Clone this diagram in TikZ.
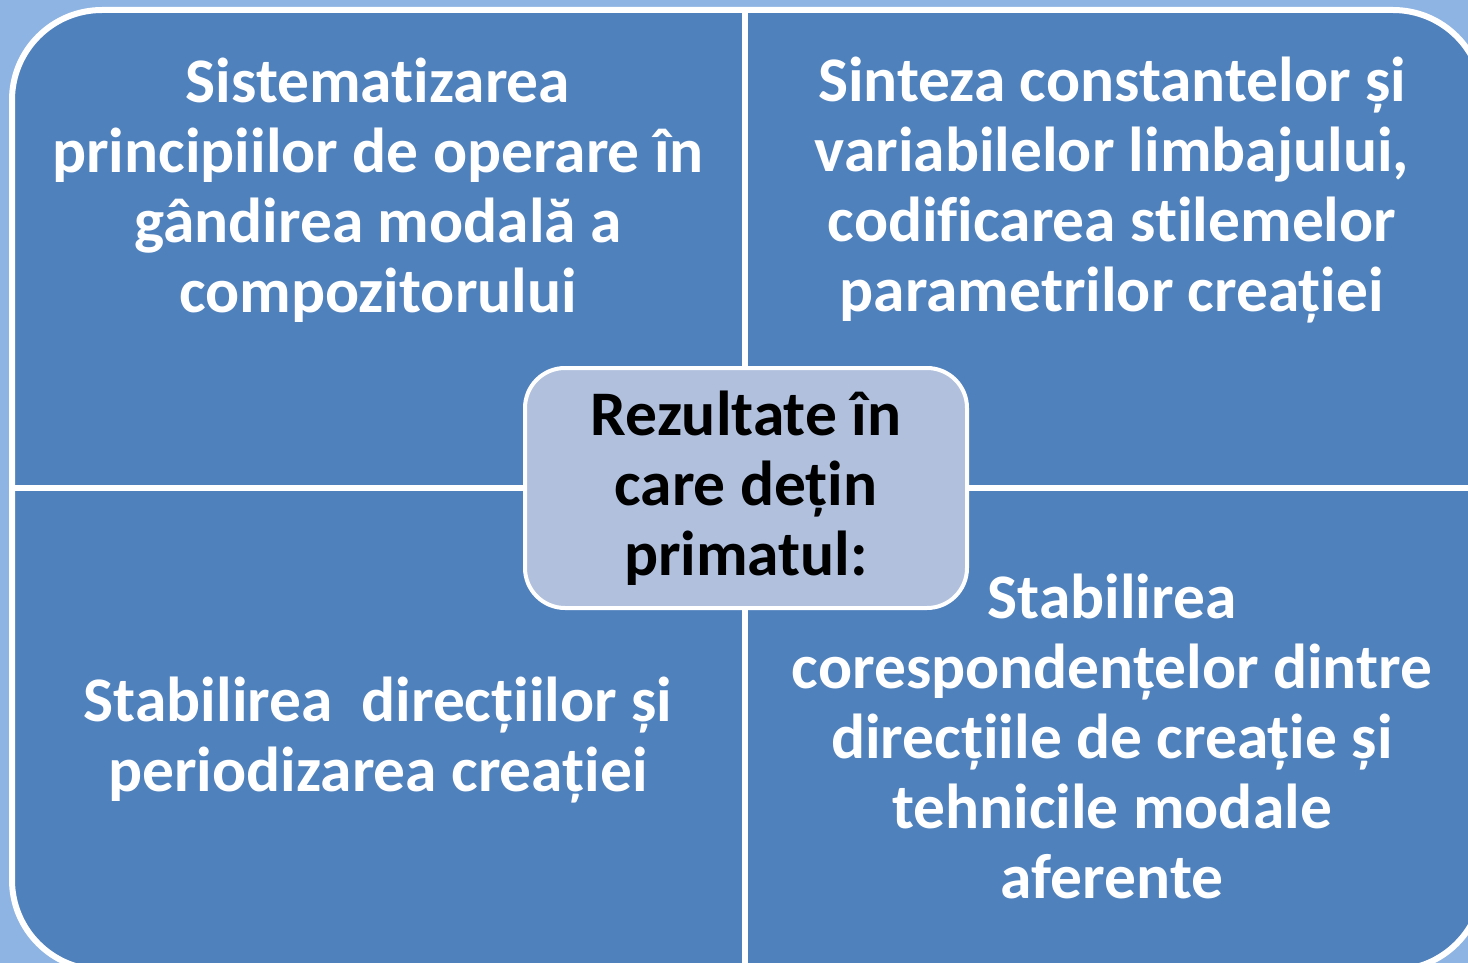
\documentclass[tikz,border=0pt]{standalone}
\usepackage{fontspec}
\setmainfont{Carlito}[Ligatures=NoCommon]
\usepackage{tikz}
\usetikzlibrary{positioning}
\definecolor{pageColor}{RGB}{142,180,227}
\definecolor{quadColor}{RGB}{79,129,189}
\definecolor{hubColor}{RGB}{176,192,221}
\tikzstyle{sheet} = [x = 1pt, y = -1pt]
\tikzstyle{quadStyle} = [fill=quadColor, draw=white, line width=6pt, rounded corners=90pt]
\tikzstyle{dividerLine} = [draw=white, line width=6pt]
\tikzstyle{quadText} = [text=white, align=center, font=\fontsize{63.5}{70}\selectfont\bfseries]
\tikzstyle{hubStyle} = [fill=hubColor, draw=white, line width=4pt, rounded corners=40pt, minimum width=442pt, minimum height=240pt, align=center, font=\fontsize{63.5}{70}\selectfont\bfseries]

\begin{document}
\begin{tikzpicture}[sheet]
    \useasboundingbox [fill=pageColor] (0,0) rectangle (1468,963);
    \filldraw [quadStyle] (12,10) rectangle (1483,970);
    \draw [dividerLine] (745,10) -- (745,970);
    \draw [dividerLine] (12,488) -- (1483,488);
    \node [quadText] (topLeft) at (378,190) {Sistematizarea\\principiilor de operare în\\gândirea modală a\\compozitorului};
    \node [quadText] (topRight) at (1112,190) {Sinteza constantelor și\\variabilelor limbajului,\\codificarea stilemelor\\parametrilor creației};
    \node [quadText] (bottomLeft) at (378,740) {Stabilirea\ \ direcțiilor și\\periodizarea creației};
    \node [quadText] (bottomRight) at (1112,736) {Stabilirea\\corespondențelor dintre\\direcțiile de creație și\\tehnicile modale\\aferente};
    \node [hubStyle] (hub) at (746,488) {Rezultate în\\care dețin\\primatul:};
\end{tikzpicture}
\end{document}
